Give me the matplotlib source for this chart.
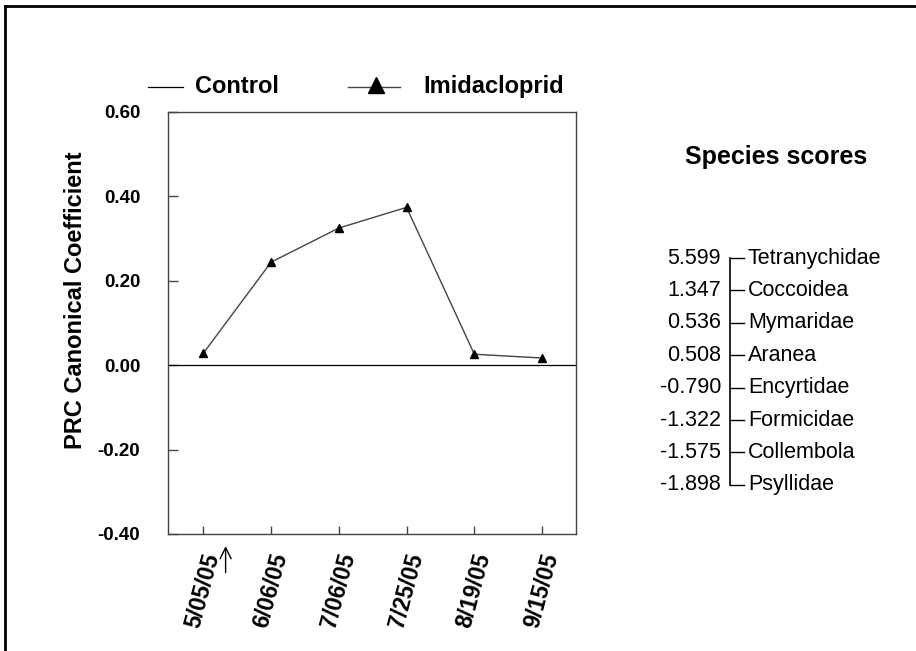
import matplotlib
matplotlib.use("Agg")
import matplotlib.pyplot as plt
from matplotlib.lines import Line2D

plt.rcParams['font.family'] = ['Liberation Sans', 'DejaVu Sans']

# -----------------------
# Data
# -----------------------

dates = ["5/05/05", "6/06/05", "7/06/05", "7/25/05", "8/19/05", "9/15/05"]
imidacloprid = [0.028, 0.244, 0.325, 0.374, 0.026, 0.017]
control = 0.0

yticks = [-0.40, -0.20, 0.00, 0.20, 0.40, 0.60]

species = ["Tetranychidae", "Coccoidea", "Mymaridae", "Aranea",
           "Encyrtidae", "Formicidae", "Collembola", "Psyllidae"]
scores = [5.599, 1.347, 0.536, 0.508, -0.790, -1.322, -1.575, -1.898]

# treatment applied between first and second sampling
arrow_x = 0.33

W, H = 916, 651

# -----------------------
# Figure
# -----------------------

fig = plt.figure(figsize=(W / 100, H / 100), dpi=100)
ax = fig.add_axes([168 / W, 1 - 534 / H, 408 / W, 422 / H])

x = list(range(len(dates)))

ax.axhline(control, color="black", lw=0.9)
ax.plot(x, imidacloprid, color="#444444", lw=1.0,
        marker="^", markersize=6, markerfacecolor="black",
        markeredgecolor="black")

ax.set_xlim(-0.52, 5.5)
ax.set_ylim(-0.40, 0.60)
ax.set_yticks(yticks)
ax.set_yticklabels([f"{v:.2f}" for v in yticks], fontsize=13.5, fontweight="bold")
ax.set_xticks(x)
ax.set_xticklabels(dates, rotation=75, ha="center", va="top",
                   fontsize=16.5, fontweight="bold")

ax.tick_params(axis="y", direction="in", length=7, pad=20, width=1, color="#444444")
ax.tick_params(axis="x", direction="in", length=6, pad=12, width=1, color="#444444")
for s in ax.spines.values():
    s.set_color("#444444")
    s.set_linewidth(1.0)

fig.text(76 / W, 1 - 300 / H, "PRC Canonical Coefficient", rotation=90,
         ha="center", va="center", fontsize=17, fontweight="bold")

ax.annotate("", xy=(arrow_x, -0.022), xytext=(arrow_x, -0.098),
            xycoords=("data", "axes fraction"),
            textcoords=("data", "axes fraction"),
            arrowprops=dict(arrowstyle="->", color="black", lw=1.0,
                            mutation_scale=20),
            annotation_clip=False)

# legend, drawn by hand so each handle keeps its own length
ly = 1 - 87 / H
base = 1 - 93 / H
fig.add_artist(Line2D([148 / W, 183 / W], [ly, ly], color="black", lw=0.9))
fig.text(195 / W, base, "Control", ha="left", va="baseline",
         fontsize=17, fontweight="bold")
fig.add_artist(Line2D([348 / W, 400 / W], [ly, ly], color="#444444", lw=1.0))
fig.add_artist(Line2D([376 / W], [1 - 85 / H], marker="^", markersize=12,
                      color="black", lw=0))
fig.text(423 / W, base, "Imidacloprid", ha="left", va="baseline",
         fontsize=17, fontweight="bold")

# -----------------------
# Species scores
# -----------------------

fig.text(776 / W, 1 - 157 / H, "Species scores", ha="center", va="center",
         fontsize=18, fontweight="bold")

top = 1 - 258 / H
step = 32.4 / H
ys = [top - i * step for i in range(len(species))]
xb = 730 / W
xt = 744 / W

for name, sc, y in zip(species, scores, ys):
    fig.text(721 / W, y, f"{sc:.3f}", ha="right", va="center", fontsize=15.5)
    fig.text(748 / W, y, name, ha="left", va="center", fontsize=15.5)
    fig.add_artist(Line2D([xb, xt], [y, y], color="black", lw=1.0))

fig.add_artist(Line2D([xb, xb], [ys[0], ys[-1]], color="black", lw=1.2))

# frame edges of the original page
fig.add_artist(Line2D([5 / W, 1.0], [1 - 6 / H, 1 - 6 / H], color="black", lw=2))
fig.add_artist(Line2D([5 / W, 5 / W], [0, 1 - 6 / H], color="black", lw=2))

fig.savefig("out.png", dpi=100)
